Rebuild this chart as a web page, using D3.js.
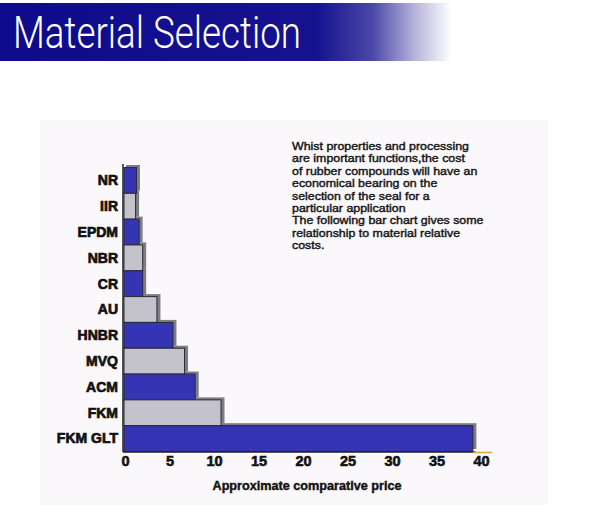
<!DOCTYPE html>
<html><head><meta charset="utf-8">
<script src="https://cdn.jsdelivr.net/npm/d3@7"></script>
<style>html,body{margin:0;padding:0;background:#fff;}svg{display:block;}</style>
</head><body>
<svg id="c" width="610" height="513"></svg>
<script>
const categories = ["NR","IIR","EPDM","NBR","CR","AU","HNBR","MVQ","ACM","FKM","FKM GLT"];
const prices = [1.4, 1.3, 1.7, 2.1, 2.1, 3.7, 5.5, 6.8, 8.0, 10.9, 39.2];
const tickValues = [0,5,10,15,20,25,30,35,40];
const titleText = "Material Selection";
const axisTitle = "Approximate comparative price";
const noteLines = [
  "Whist properties and processing",
  "are important functions,the cost",
  "of rubber compounds will have an",
  "economical bearing on the",
  "selection of the seal for a",
  "particular application",
  "The following bar chart gives some",
  "relationship to material relative",
  "costs."
];

const svg = d3.select("#c");
const defs = svg.append("defs");
const g1 = defs.append("linearGradient").attr("id","hdr").attr("x1",0).attr("x2",1).attr("y1",0).attr("y2",0);
g1.append("stop").attr("offset","0").attr("stop-color","#0e0b8c");
g1.append("stop").attr("offset","0.52").attr("stop-color","#16128f");
g1.append("stop").attr("offset","0.61").attr("stop-color","#4a47a8");
g1.append("stop").attr("offset","0.68").attr("stop-color","#b6b4da");
g1.append("stop").attr("offset","0.74").attr("stop-color","#ffffff");
g1.append("stop").attr("offset","1").attr("stop-color","#ffffff");

// header band
svg.append("rect").attr("x",0).attr("y",3).attr("width",610).attr("height",58).attr("fill","url(#hdr)");
svg.append("text").attr("x",13).attr("y",48)
  .attr("font-family","Roboto, 'Open Sans', sans-serif").attr("font-weight",300)
  .attr("font-size",44).attr("fill","#ffffff")
  .attr("textLength",288).attr("lengthAdjust","spacingAndGlyphs")
  .text(titleText);

// faint paper tint
svg.append("rect").attr("x",40).attr("y",120).attr("width",508).attr("height",385).attr("fill","#faf8fb");

const x = d3.scaleLinear().domain([0,40]).range([124,480]);
const y = d3.scaleBand().domain(categories).range([167.5,451.5]).padding(0);

const data = categories.map((c,i)=>({c, v:prices[i], i}));

// shadows
svg.append("g").selectAll("rect").data(data).join("rect")
  .attr("x", x(0)+2).attr("y", d=>y(d.c)-2.5)
  .attr("width", d=>x(d.v)-x(0)+1.5).attr("height", y.bandwidth())
  .attr("fill","#7e7d84");

// bars
svg.append("g").selectAll("rect").data(data).join("rect")
  .attr("x", x(0)).attr("y", d=>y(d.c))
  .attr("width", d=>x(d.v)-x(0)).attr("height", y.bandwidth())
  .attr("fill", d=> d.i%2===0 ? "#3434b4" : "#c4c3cb")
  .attr("stroke","#2a2a3a").attr("stroke-width",1);

// y axis line
svg.append("line").attr("x1",123).attr("x2",123).attr("y1",164).attr("y2",452).attr("stroke","#222").attr("stroke-width",1.5);
// baseline
svg.append("line").attr("x1",123).attr("x2",x(39.5)).attr("y1",452).attr("y2",452).attr("stroke","#222").attr("stroke-width",1.5);
svg.append("line").attr("x1",x(39.2)).attr("x2",492).attr("y1",452.5).attr("y2",452.5).attr("stroke","#d9a43a").attr("stroke-width",1.5);

// category labels
const yAxis = d3.axisLeft(y).tickSize(0).tickPadding(0);
const ya = svg.append("g").attr("transform","translate(118,0)").call(yAxis);
ya.select(".domain").remove();
ya.selectAll("text").attr("font-family","'Liberation Sans', Arial, sans-serif").attr("font-weight","bold")
  .attr("font-size",14).attr("fill","#111").attr("stroke","#111").attr("stroke-width",0.7).attr("dy","0.35em");

// x ticks
const xAxis = d3.axisBottom(x).tickValues(tickValues).tickSize(0).tickPadding(0).tickFormat(d3.format("d"));
const xa = svg.append("g").attr("transform","translate(1,456)").call(xAxis);
xa.select(".domain").remove();
xa.selectAll("text").attr("font-family","'Liberation Sans', Arial, sans-serif").attr("font-weight","bold")
  .attr("font-size",14.5).attr("fill","#111").attr("stroke","#111").attr("stroke-width",0.6).attr("dy","0.71em");

svg.append("text").attr("x",307).attr("y",490).attr("text-anchor","middle")
  .attr("font-family","'Liberation Sans', Arial, sans-serif").attr("font-weight","bold")
  .attr("font-size",12.5).attr("fill","#111").attr("stroke","#111").attr("stroke-width",0.4)
  .attr("textLength",189).attr("lengthAdjust","spacingAndGlyphs")
  .text(axisTitle);

// note: measure widths at the visual size, draw at a slightly smaller size stretched to that width
const noteG = svg.append("g");
const probe = noteG.append("text").attr("font-family","'Liberation Sans', Arial, sans-serif").attr("font-size",12.4);
const widths = noteLines.map(t => { probe.text(t); return probe.node().getComputedTextLength(); });
probe.remove();
noteG.selectAll("text").data(noteLines).join("text")
  .attr("x",292).attr("y",(d,i)=>150+i*12.4)
  .attr("font-family","'Liberation Sans', Arial, sans-serif")
  .attr("font-size",11).attr("fill","#151515").attr("stroke","#151515").attr("stroke-width",0.4)
  .attr("textLength",(d,i)=>widths[i]).attr("lengthAdjust","spacingAndGlyphs")
  .text(d=>d);
</script>
</body></html>
